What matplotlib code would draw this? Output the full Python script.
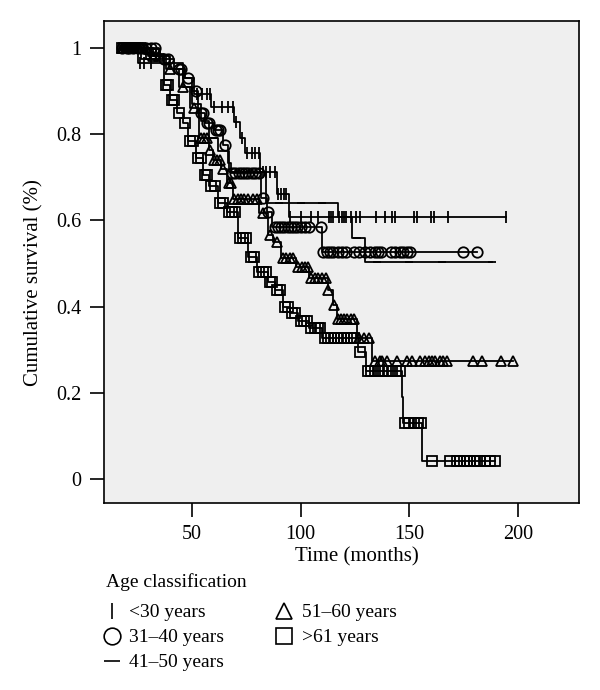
import numpy as np
import matplotlib
matplotlib.use("Agg")
from matplotlib import pyplot as plt
from matplotlib.lines import Line2D

plt.rcParams['font.family'] = ['Liberation Serif', 'DejaVu Serif']

# ---- data (time in months, cumulative survival) ----
groups = ['<30 years', '31\u201340 years', '41\u201350 years', '51\u201360 years', '>61 years']

# <30 years
t_lt30 = [17, 25, 46, 51, 59, 69.5, 72, 74.5, 81.5, 89, 94.5]
s_lt30 = [1.0, 0.964, 0.93, 0.894, 0.862, 0.827, 0.79, 0.755, 0.711, 0.66, 0.607]
c_lt30 = [18, 19, 20, 22, 24, 26, 28, 31, 52.5, 54.5, 57, 58.5, 60, 63.8, 66.6, 68.9,
          70.5, 73, 75.5, 77.5, 79, 81, 82.5, 84, 86, 88, 89.5, 91, 92.5, 93.5,
          95.1, 100.1, 104.8, 108.2, 113.1, 114, 115, 117.8, 119, 120, 121, 123,
          125.6, 127.5, 134.8, 138.6, 142.2, 143.4, 152, 153.4, 160, 161.2, 167.9, 194.5]

# 31-40 years
t_31 = [17, 35, 42, 47, 50, 53, 56, 60, 64.5, 66.5, 68, 82, 84.5, 87, 110]
s_31 = [1.0, 0.975, 0.95, 0.93, 0.9, 0.85, 0.825, 0.81, 0.774, 0.732, 0.709, 0.651, 0.619, 0.584, 0.526]
c_31 = [18, 20, 21, 23, 25, 27, 29, 31, 33, 37, 39, 44, 45, 48, 52, 54, 55, 57, 58, 61,
        62, 63, 65, 68.5, 70, 71.5, 73, 74.5, 76, 77.5, 79, 81, 82.5, 85, 88, 89.5, 91,
        92.5, 94, 95.5, 97, 98.5, 100, 102, 104, 109.5, 110.5, 112, 113.5, 115, 117,
        119, 121, 124.5, 127, 129.5, 132, 134, 135.5, 137, 141.5, 143.5, 145.5, 147,
        149, 150.5, 174.7, 181]

# 41-50 years
t_41 = [17, 32, 40, 46, 50, 54, 58, 62, 67, 84, 117, 123.5, 129.6]
s_41 = [1.0, 0.98, 0.95, 0.91, 0.87, 0.83, 0.79, 0.76, 0.712, 0.64, 0.607, 0.558, 0.503]
c_41 = [20, 25, 30, 45, 60, 70, 75, 90, 100, 110, 120, 126, 135, 150, 165, 188]

# 51-60 years
t_51 = [17, 30, 38, 44, 49, 53.5, 58, 59.5, 63.5, 66, 68.8, 81, 85, 87.5, 91, 98, 104,
        112.4, 114.8, 116.5, 126, 133]
s_51 = [1.0, 0.98, 0.95, 0.91, 0.86, 0.79, 0.762, 0.74, 0.72, 0.686, 0.65, 0.616, 0.565,
        0.549, 0.512, 0.491, 0.466, 0.438, 0.403, 0.37, 0.327, 0.273]
c_51 = [18, 19, 21, 23, 25, 27, 29, 32, 35, 40, 46, 51, 54, 55.5, 57, 58.5, 60, 61.5, 63,
        64.5, 67, 68, 69.5, 71, 72.5, 74, 76, 78, 80, 82.7, 86, 89, 92, 93.5, 95, 96.5,
        99, 100.5, 102, 103.5, 105, 106.5, 108, 110, 111.5, 112.6, 115.5, 117, 118.5,
        120, 121.5, 123, 124.5, 127, 129, 131.5, 134.2, 136.5, 137.4, 139.6, 144.2,
        148.8, 151, 155, 157, 159, 160.5, 162, 164, 165.5, 167.4, 179.4, 183.3, 192, 197.8]

# >61 years
t_61 = [17, 28, 37, 40, 43, 46, 48, 52, 55, 58, 62, 66, 71, 76, 80, 85, 88, 92, 95, 99,
        104, 109.8, 126.2, 130, 146.5, 147.2, 156]
s_61 = [1.0, 0.985, 0.915, 0.88, 0.85, 0.825, 0.785, 0.745, 0.705, 0.68, 0.64, 0.62, 0.56,
        0.514, 0.48, 0.457, 0.438, 0.4, 0.385, 0.366, 0.35, 0.327, 0.294, 0.25, 0.19, 0.13, 0.042]
c_61 = [18, 19, 20, 21, 22, 24, 26, 29, 31, 33, 38, 39, 41, 42, 44, 47, 49, 50.5, 53, 54,
        56, 57, 59, 60.5, 63, 64.5, 67, 68.5, 70, 72, 73.5, 75, 77, 78.5, 81, 82.5, 84,
        86, 87, 89, 90.5, 93, 94, 96, 97.5, 100, 101.5, 103, 105, 106.5, 108, 109, 111,
        112.5, 114, 115.5, 117, 118.5, 120, 121.5, 123, 124.5, 127.3, 131, 132.5, 134,
        136, 138, 140, 142, 144, 145.5, 148, 150, 152, 154, 155.5, 160.4, 168.7, 171.8,
        173.5, 175, 176.5, 178, 179.5, 181, 182.5, 185, 187, 189.4]

times = [t_lt30, t_31, t_41, t_51, t_61]
survs = [s_lt30, s_31, s_41, s_51, s_61]
cens = [c_lt30, c_31, c_41, c_51, c_61]
markers = ['|', 'o', '_', '^', 's']
msizes = [9, 7.5, 6, 7.5, 7]

fig = plt.figure(figsize=(6, 6.9), dpi=100)
ax = fig.add_axes([0.173, 0.2714, 0.792, 0.6986])
ax.set_facecolor('#efefef')

for t, s, c, m, ms in zip(times, survs, cens, markers, msizes):
    t = np.asarray(t, float)
    s = np.asarray(s, float)
    c = np.asarray(c, float)
    end = max(c.max(), t.max())
    ax.step(np.r_[t, end], np.r_[s, s[-1]], where='post', color='k', lw=1.3)
    cy = s[np.searchsorted(t, c, side='right') - 1]
    ax.plot(c, cy, ls='none', marker=m, ms=ms, mfc='none', mec='k', mew=1.3)

ax.set_xlim(9.5, 228)
ax.set_ylim(-0.055, 1.063)
ax.set_xticks([50, 100, 150, 200])
ax.set_yticks([0, 0.2, 0.4, 0.6, 0.8, 1])
ax.set_yticklabels(['0', '0.2', '0.4', '0.6', '0.8', '1'])
ax.tick_params(direction='out', length=10, width=1.2, labelsize=14.5, pad=6)
for sp in ax.spines.values():
    sp.set_linewidth(1.2)

ax.set_xlabel('Time (months)', fontsize=15)
ax.xaxis.set_label_coords(0.533, -0.092)
ax.set_ylabel('Cumulative survival (%)', fontsize=15)
ax.yaxis.set_label_coords(-0.127, 0.456)

handles = [Line2D([], [], ls='none', marker=m, ms=12, mfc='none', mec='k', mew=1.2)
           for m in markers]
leg = fig.legend(handles, groups, loc='upper left', bbox_to_anchor=(0.16, 0.183),
                 ncol=2, frameon=False, fontsize=14, title='Age classification',
                 title_fontsize=14, alignment='left', handlelength=0.6,
                 handletextpad=0.6, columnspacing=2.8, labelspacing=0.38, borderpad=0)
leg._legend_box.sep = 9

fig.savefig('out.png', dpi=100)
